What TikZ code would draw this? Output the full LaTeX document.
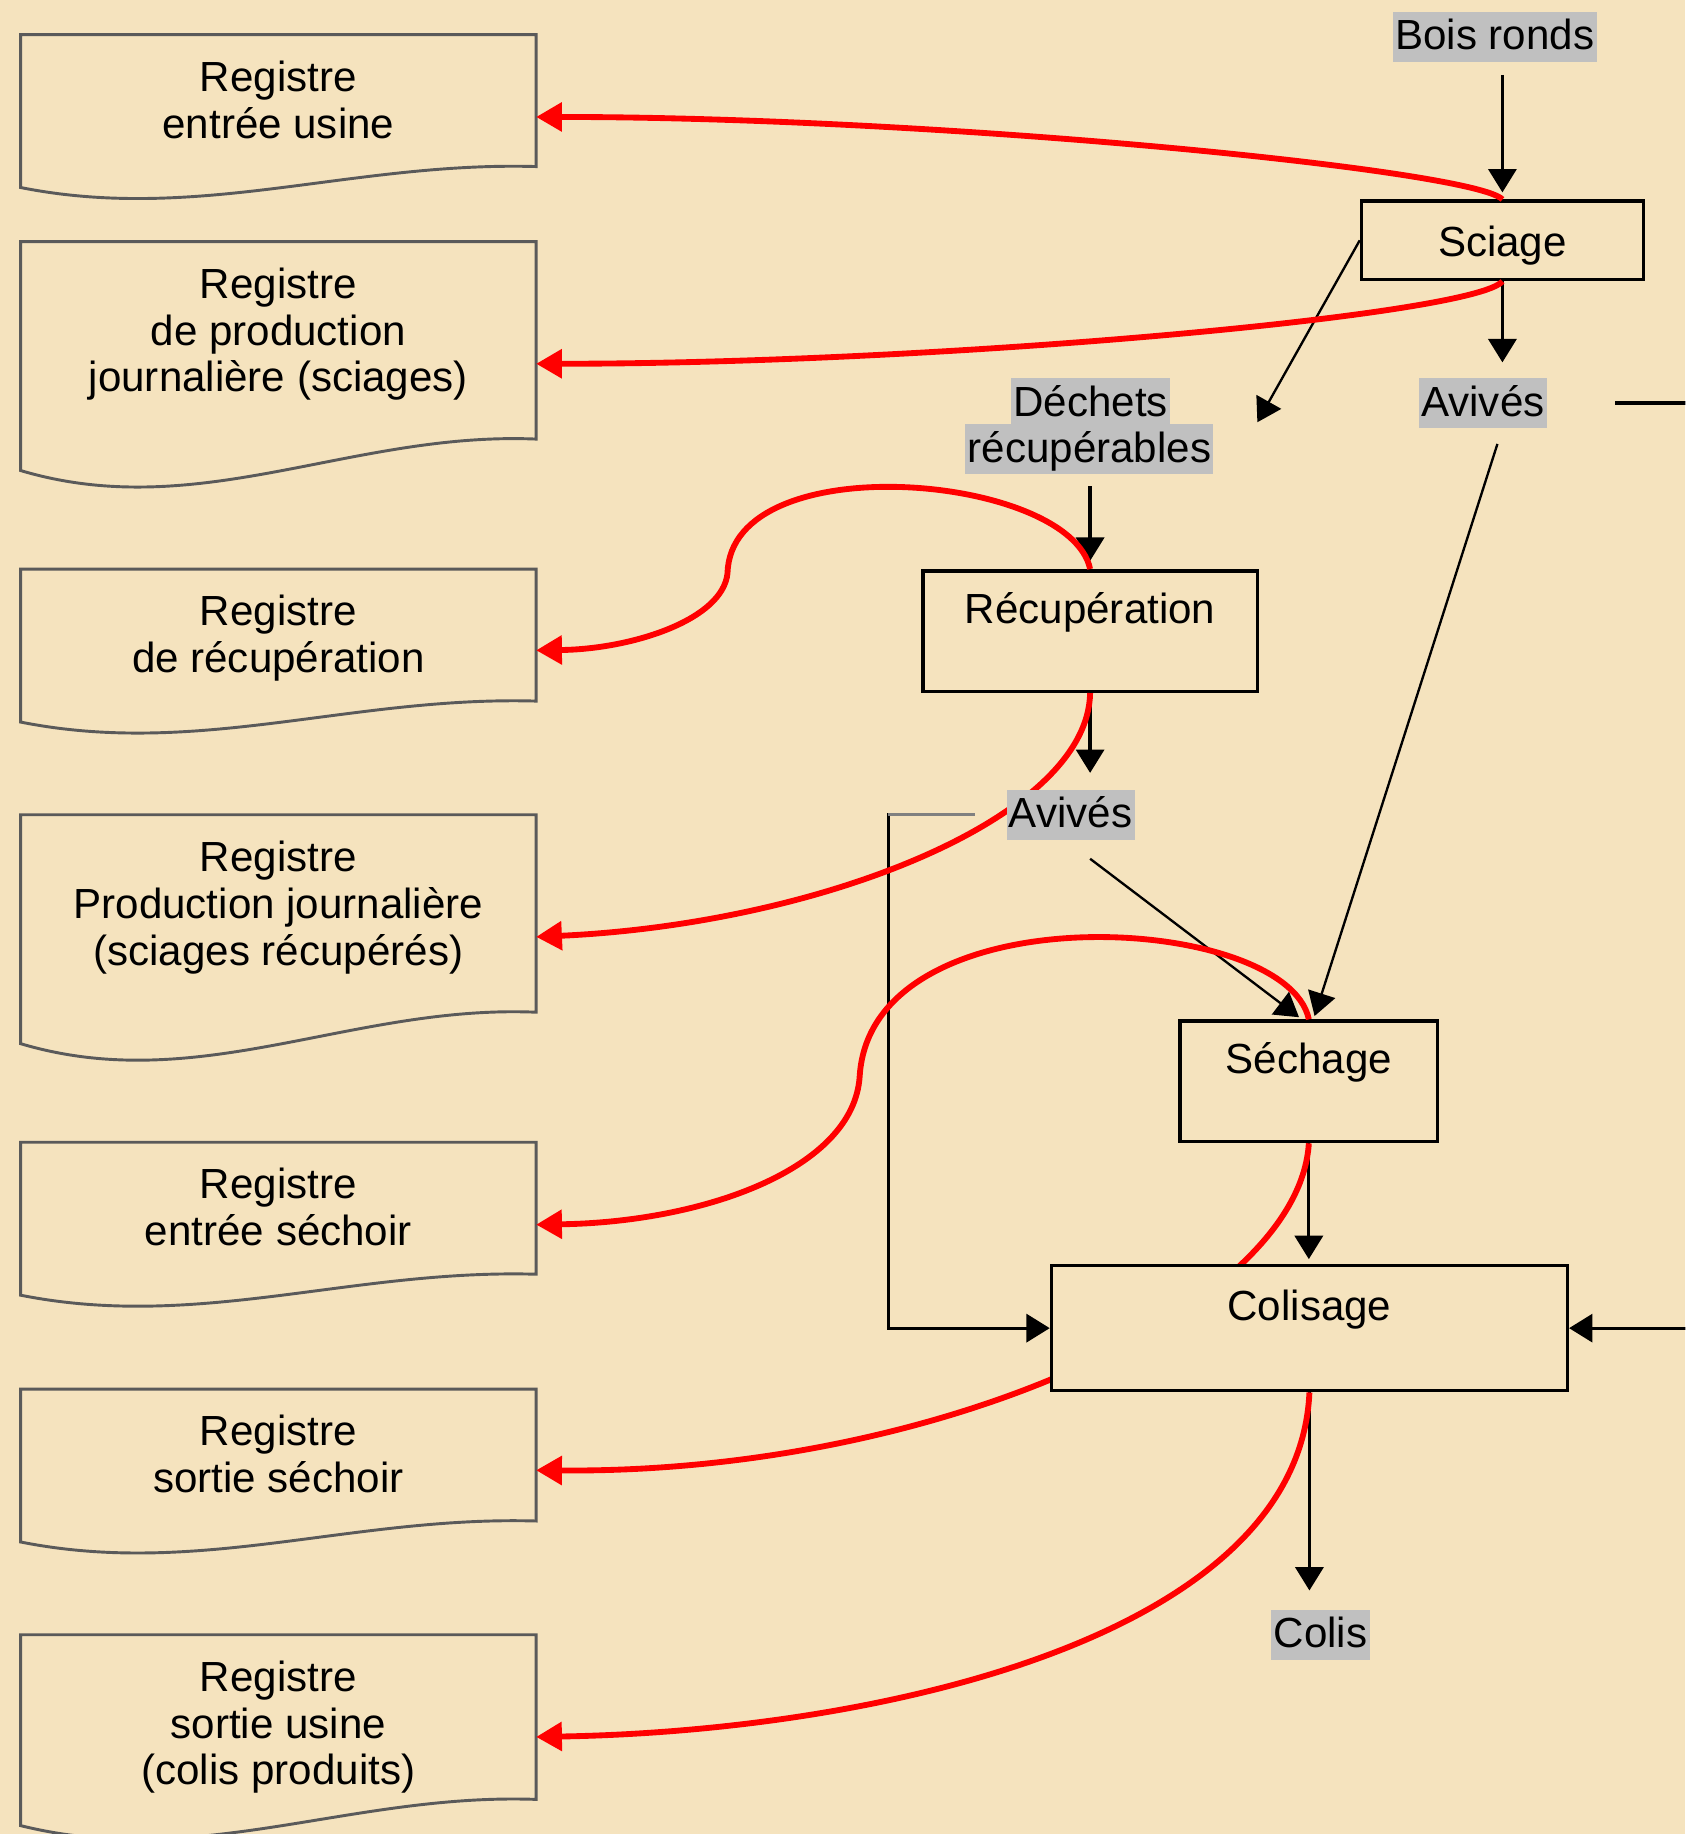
\documentclass[tikz,border=0pt]{standalone}
\usepackage{fontspec}
\setmainfont{Liberation Sans}
\usetikzlibrary{arrows.meta,calc}

\definecolor{paper}{RGB}{245,227,190}
\definecolor{tagfill}{RGB}{192,192,192}
\definecolor{docedge}{RGB}{90,90,90}
\definecolor{linkred}{RGB}{255,0,0}

\pgfdeclarelayer{canvas}
\pgfdeclarelayer{links}
\pgfsetlayers{canvas,links,main}

% register sheet: rectangle with a wavy lower edge (#1 frame node, #2 frame height)
\newcommand\regoutline[2]{%
  \draw[docline] ($(#1.south west)+(0,0.16*#2)$) -- (#1.north west) -- (#1.north east) -- (#1.south east)
    .. controls ($(#1.south east)+(-158,-0.04*#2)$) and ($(#1.south west)+(152,0.43*#2)$)
    .. ($(#1.south west)+(0,0.16*#2)$) -- cycle;}

\begin{document}
\begin{tikzpicture}[x=0.5pt,y=-0.5pt,
  txt/.style={font=\fontsize{18pt}{20pt}\selectfont},
  regframe/.style={draw=none, inner sep=0pt, minimum width=220pt},
  regtext/.style={txt, align=center, anchor=north, inner sep=0pt},
  docline/.style={draw=docedge, line width=1.25pt, line join=miter},
  stage/.style={txt, draw, line width=1.5pt, fill=paper, inner xsep=0pt, inner ysep=0pt},
  tag/.style={txt, fill=tagfill, inner xsep=1pt, inner ysep=0pt, text height=16.3pt, text depth=5pt},
  flow/.style={line width=1.4pt, -{Triangle[length=10pt,width=12pt]}},
  thinflow/.style={line width=1pt, -{Triangle[length=10pt,width=12pt]}},
  record/.style={draw=linkred, line width=2.5pt, -{Triangle[length=11pt,width=12pt]}},
]
\useasboundingbox (0,0) rectangle (1441,1568);
\begin{pgfonlayer}{canvas}
  \fill[paper] (0,0) rectangle (1441,1568);
\end{pgfonlayer}

% ---------- registers (left column) ----------
\node[regframe, minimum height=56pt] (reg1) at (238,86) {};
\regoutline{reg1}{112}
\node[regtext] (reg1t) at ([yshift=-11pt]reg1.north) {Registre\\entrée usine};

\node[regframe, minimum height=84pt] (reg2) at (238,291) {};
\regoutline{reg2}{168}
\node[regtext] (reg2t) at ([yshift=-11pt]reg2.north) {Registre\\de production\\journalière (sciages)};

\node[regframe, minimum height=56pt] (reg3) at (238,543) {};
\regoutline{reg3}{112}
\node[regtext] (reg3t) at ([yshift=-11pt]reg3.north) {Registre\\de récupération};

\node[regframe, minimum height=84pt] (reg4) at (238,781) {};
\regoutline{reg4}{168}
\node[regtext] (reg4t) at ([yshift=-11pt]reg4.north) {Registre\\Production journalière\\(sciages récupérés)};

\node[regframe, minimum height=56pt] (reg5) at (238,1033) {};
\regoutline{reg5}{112}
\node[regtext] (reg5t) at ([yshift=-11pt]reg5.north) {Registre\\entrée séchoir};

\node[regframe, minimum height=56pt] (reg6) at (238,1244) {};
\regoutline{reg6}{112}
\node[regtext] (reg6t) at ([yshift=-11pt]reg6.north) {Registre\\sortie séchoir};

\node[regframe, minimum height=70pt] (reg7) at (238,1468) {};
\regoutline{reg7}{140}
\node[regtext] (reg7t) at ([yshift=-11pt]reg7.north) {Registre\\sortie usine\\(colis produits)};

% ---------- process stages ----------
\node[stage, minimum width=120.5pt, text height=23.5pt, text depth=10pt] (sciage) at (1284.5,205.5) {Sciage};
\node[stage, minimum width=143pt, text height=22.5pt, text depth=29pt] (recup) at (932,539.5) {Récupération};
\node[stage, minimum width=110pt, text height=22.5pt, text depth=29pt] (sechage) at (1119,924.5) {Séchage};

% drying record link runs behind the packing stage
\draw[record] (sechage.south) .. controls (1110,1120) and (800,1260) .. (reg6.east |- 0,1257);

\node[stage, minimum width=220.5pt, text height=23.5pt, text depth=30pt] (colisage) at (1119.5,1135.5) {Colisage};

% ---------- record links (red) ----------
\draw[record] (sciage.north) .. controls (1260,145) and (800,100) .. (reg1.east |- 0,100);
\draw[record] (sciage.south) .. controls (1260,270) and (800,311) .. (reg2.east |- 0,311);
\draw[record] (recup.north) .. controls (915,405) and (625,380) .. (622,490)
  .. controls (618,530) and (540,555) .. (reg3.east |- 0,556);
\draw[record] (recup.south) .. controls (930,700) and (700,790) .. (reg4.east |- 0,801);
\draw[record] (sechage.north) .. controls (1100,780) and (745,760) .. (735,920)
  .. controls (730,1000) and (600,1045) .. (reg5.east |- 0,1047);
\draw[record] (colisage.south) .. controls (1110,1400) and (750,1480) .. (reg7.east |- 0,1485);

% ---------- product tags ----------
\node[tag] (bois) at (1278,31.3) {Bois ronds};
\node[tag] (avv1) at (1267.8,344.5) {Avivés};
\node[tag] (dech1) at (932.5,344.7) {Déchets};
\node[tag] (dech2) at (931.4,384) {récupérables};
\node[tag] (avv2) at (915.3,696.5) {Avivés};
\node[tag] (colis) at (1129,1397.5) {Colis};

% ---------- material flow (black) ----------
\begin{pgfonlayer}{links}
  \clip (0,0) rectangle (1441,1568);
  \coordinate (wasteend) at (1075,361);
  \coordinate (avv2out) at ($(recup.south |- avv2.south)+(0,16)$);
  \draw[flow, shorten <=5.5pt, shorten >=3pt] (sciage.north |- bois.south) -- (sciage.north);
  \draw[flow, shorten >=6.5pt] (sciage.south) -- (sciage.south |- avv1.north);
  \draw[thinflow] (sciage.west) -- (wasteend);
  \draw[flow, shorten <=5pt, shorten >=3.5pt] (recup.north |- dech2.south) -- (recup.north);
  \draw[flow, shorten >=7pt] (recup.south) -- (recup.south |- avv2.north);
  \draw[thinflow, shorten <=7pt, shorten >=1.5pt] (sciage.south |- avv1.south) -- ([xshift=2pt]sechage.north);
  \draw[thinflow, shorten >=1.5pt] (avv2out) -- ([xshift=-3pt]sechage.north);
  \draw[flow, shorten <=13.5pt] (avv2.west) -- ++(-100.6,0) |- (colisage.west);
  \draw[draw=gray, line width=1.4pt, shorten <=13.5pt] (avv2.west) -- ++(-100.6,0);
  \draw[flow, shorten <=29pt] (avv1.east) -- ++(140,0) |- (colisage.east);
  \draw[flow, shorten >=2pt] (sechage.south) -- (sechage.south |- colisage.north);
  \draw[flow, shorten >=8pt] (colisage.south) -- (colisage.south |- colis.north);
\end{pgfonlayer}
\end{tikzpicture}
\end{document}
